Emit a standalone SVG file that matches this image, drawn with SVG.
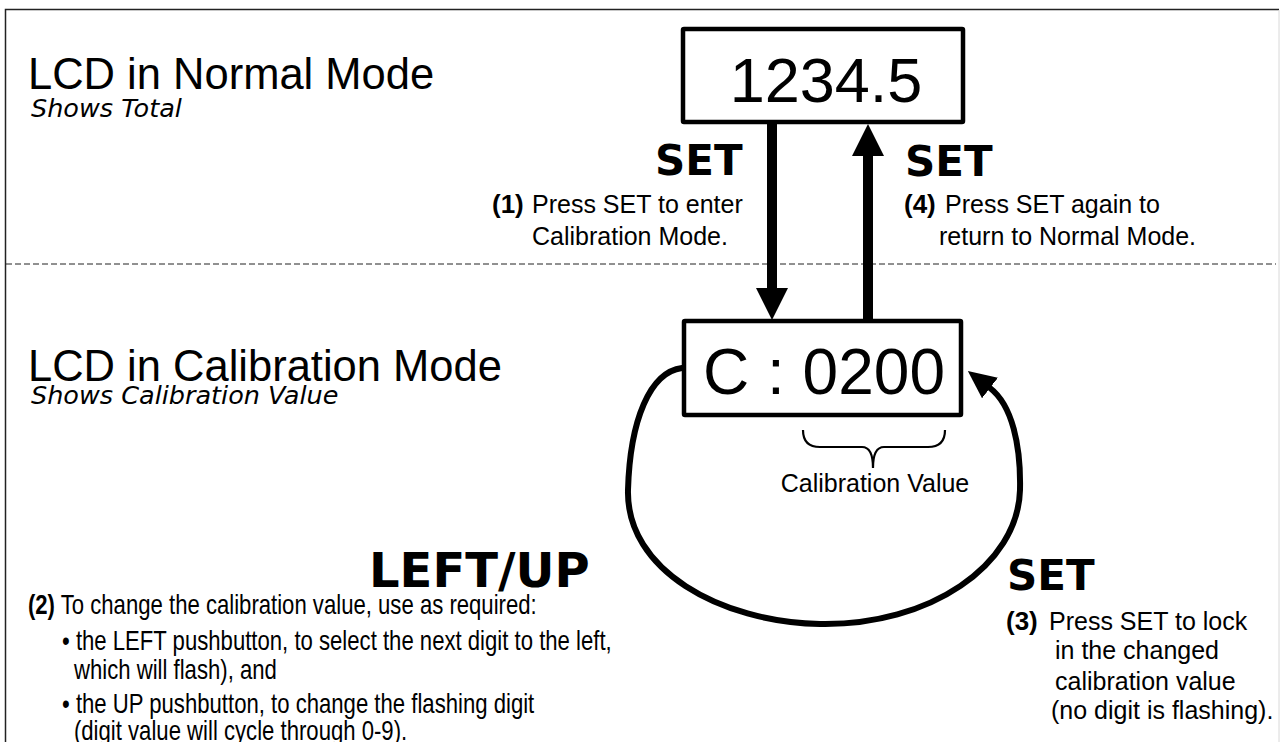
<svg xmlns="http://www.w3.org/2000/svg" width="1280" height="742" viewBox="0 0 1280 742">
<style>
.t{font-family:"Liberation Sans",Arial,sans-serif;fill:#000}
.v{font-family:"DejaVu Sans",Verdana,sans-serif;fill:#000}
.big{font-size:43.5px}
.sub{font-size:25.5px;font-style:italic}
.lcd{font-size:63px}
.key{font-size:42px;font-weight:bold}
.txt{font-size:25px}
.num{font-size:26px;font-weight:bold}
.nar{font-size:27px}
.box{fill:#fff;stroke:#000;stroke-width:4.5}
.shaft{stroke:#000;stroke-width:10;fill:none}
.loop{stroke:#000;stroke-width:6;fill:none;stroke-linecap:round}
</style>
<defs>
<marker id="ah" markerUnits="userSpaceOnUse" markerWidth="32" markerHeight="32" refX="0" refY="16" orient="auto" viewBox="0 0 32 32"><path d="M0,0 L32,16 L0,32 z" fill="#000"/></marker>
<marker id="ah2" markerUnits="userSpaceOnUse" markerWidth="28" markerHeight="26" refX="0" refY="13" orient="auto" viewBox="0 0 28 26"><path d="M0,0 L28,13 L0,26 z" fill="#000"/></marker>
</defs>
<rect width="1280" height="742" fill="#fff"/>
<g id="frame">
<path d="M5.5,742 V9.5 H1279" fill="none" stroke="#222" stroke-width="1.5"/>
<line x1="1279" y1="10" x2="1279" y2="742" stroke="#d8d8d8" stroke-width="1"/>
<line x1="6" y1="264" x2="1276" y2="264" stroke="#222" stroke-width="1" stroke-dasharray="6 3"/>
</g>
<g id="titles">
<text class="t big" x="28" y="89">LCD in Normal Mode</text>
<text class="v sub" x="31" y="117">Shows Total</text>
<text class="t big" x="28" y="381">LCD in Calibration Mode</text>
<text class="v sub" x="31" y="404">Shows Calibration Value</text>
</g>
<g id="connectors">
<line class="shaft" x1="772" y1="124" x2="772" y2="288" marker-end="url(#ah)"/>
<line class="shaft" x1="868" y1="321" x2="868" y2="156" marker-end="url(#ah)"/>
<path class="loop" d="M682,368 C650,372 630,420 628,490 C626,570 720,622 820,624 C930,626 1018,565 1020,490 C1021,445 1012,405 990,388" marker-end="url(#ah2)"/>
</g>
<g id="node-normal">
<rect class="box" x="683" y="29" width="280" height="93" rx="1"/>
<text class="t lcd" x="826" y="102" text-anchor="middle">1234.5</text>
</g>
<g id="node-calibration">
<rect class="box" x="684" y="321" width="277" height="94" rx="1"/>
<text class="t" font-size="64" x="824" y="394" text-anchor="middle">C : 0200</text>
<path d="M803,430 Q803,447 820,447 L862,447 Q873,447 873,468 Q873,447 884,447 L928,447 Q945,447 945,430" fill="none" stroke="#000" stroke-width="2.2"/>
<text class="t txt" x="875" y="492" text-anchor="middle">Calibration Value</text>
</g>
<g id="label-step1">
<text class="v key" x="655" y="175">SET</text>
<text class="t txt" y="213"><tspan class="num" x="492">(1)</tspan><tspan x="532">Press SET to enter</tspan></text>
<text class="t txt" x="532" y="245">Calibration Mode.</text>
</g>
<g id="label-step4">
<text class="v key" x="905" y="176">SET</text>
<text class="t txt" y="213"><tspan class="num" x="904">(4)</tspan><tspan x="945">Press SET again to</tspan></text>
<text class="t txt" x="939" y="245">return to Normal Mode.</text>
</g>
<g id="label-step2">
<text class="v" font-size="48" font-weight="bold" x="369" y="587">LEFT/UP</text>
<g transform="scale(0.82,1)">
<text class="t nar" x="34.1" y="614"><tspan font-weight="bold">(2)</tspan> To change the calibration value, use as required:</text>
<text class="t nar" x="75.6" y="650">• the LEFT pushbutton, to select the next digit to the left,</text>
<text class="t nar" x="90.2" y="679">which will flash), and</text>
<text class="t nar" x="75.6" y="713">• the UP pushbutton, to change the flashing digit</text>
<text class="t nar" x="90.2" y="740">(digit value will cycle through 0-9).</text>
</g>
</g>
<g id="label-step3">
<text class="v key" x="1007" y="590">SET</text>
<text class="t txt" y="630"><tspan class="num" x="1006">(3)</tspan><tspan x="1049">Press SET to lock</tspan></text>
<text class="t txt" x="1055" y="659">in the changed</text>
<text class="t txt" x="1055" y="690">calibration value</text>
<text class="t txt" x="1051" y="719">(no digit is flashing).</text>
</g>
</svg>
